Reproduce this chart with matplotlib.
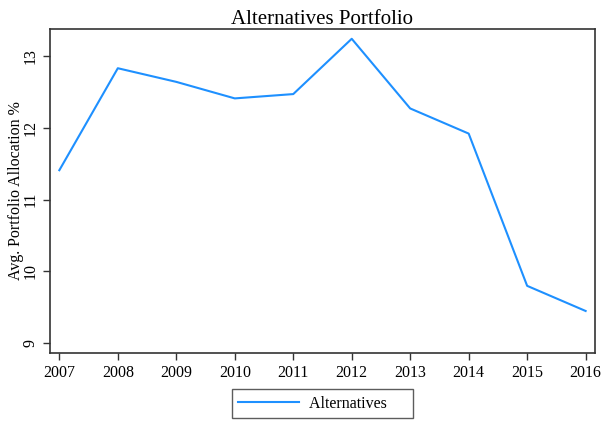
import numpy as np
import matplotlib.pyplot as plt

plt.rcParams['font.family'] = ['Liberation Serif', 'DejaVu Serif']

years = [2007, 2008, 2009, 2010, 2011, 2012, 2013, 2014, 2015, 2016]
alternatives = [11.41, 12.83, 12.64, 12.41, 12.47, 13.24, 12.27, 11.92, 9.80, 9.45]

fig = plt.figure(figsize=(6.03, 4.23), dpi=100)
ax = fig.add_axes([0.0829, 0.1655, 0.9038, 0.7659])

line, = ax.plot(years, alternatives, color='#1E90FF', linewidth=1.5, label='Alternatives')

ax.set_xlim(2006.84, 2016.16)
ax.set_ylim(8.865, 13.376)
ax.set_xticks(years)
ax.set_yticks([9, 10, 11, 12, 13])
ax.tick_params(axis='both', direction='out', length=5, width=1, labelsize=11.5, color='#333333')
for lab in ax.get_yticklabels():
    lab.set_rotation(90)
    lab.set_va('center')
for s in ax.spines.values():
    s.set_color('#333333')
    s.set_linewidth(1.2)

ax.set_ylabel('Avg. Portfolio Allocation %', fontsize=11.5, labelpad=-1)
ax.set_title('Alternatives Portfolio', fontsize=15, pad=2)

# stata style legend: short key, wide right padding
leg = fig.legend(handles=[line], labels=['Alternatives     '], loc='center',
                 bbox_to_anchor=(322.5 / 603, 0.046),
                 fontsize=11.5, frameon=True, fancybox=False, edgecolor='#333333',
                 handlelength=3.8, handletextpad=0.6, borderpad=0.4, borderaxespad=0)
leg.get_frame().set_linewidth(1.0)

fig.savefig('out.png', dpi=100)
